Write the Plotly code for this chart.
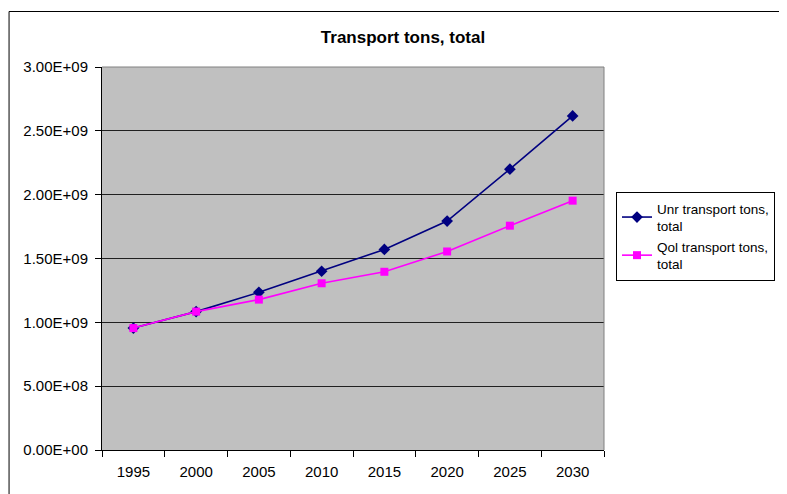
import plotly.graph_objects as go

years = ["1995", "2000", "2005", "2010", "2015", "2020", "2025", "2030"]
unr_values = [0.955e9, 1.084e9, 1.235e9, 1.400e9, 1.571e9, 1.793e9, 2.200e9, 2.617e9]
qol_values = [0.955e9, 1.084e9, 1.178e9, 1.306e9, 1.396e9, 1.555e9, 1.757e9, 1.953e9]
y_tickvals = [0, 0.5e9, 1.0e9, 1.5e9, 2.0e9, 2.5e9, 3.0e9]
y_ticktext = ["0.00E+00", "5.00E+08", "1.00E+09", "1.50E+09", "2.00E+09", "2.50E+09", "3.00E+09"]

FONT = "Liberation Sans, Arial, sans-serif"

fig = go.Figure()
fig.add_trace(go.Scatter(
    x=years, y=unr_values, mode="lines+markers",
    name="Unr transport tons,<br>total",
    line=dict(color="#000080", width=1.6),
    marker=dict(symbol="diamond", size=9, color="#000080"),
))
fig.add_trace(go.Scatter(
    x=years, y=qol_values, mode="lines+markers",
    name="Qol transport tons,<br>total",
    line=dict(color="#FF00FF", width=1.6),
    marker=dict(symbol="square", size=8, color="#FF00FF"),
))

# page body has an 8px default margin; work in page coordinates and shift
OFF = 8
W, H = 787 - OFF, 494 - OFF
L, T = 102 - OFF, 67 - OFF
pw, ph = 505, 383
R = W - L - pw
B = H - T - ph

def px(x):
    return (x - OFF - L) / pw

def py(y):
    return (T + ph - (y - OFF)) / ph

fig.update_layout(
    width=W, height=H,
    margin=dict(l=L, r=R, t=T, b=B, pad=0),
    paper_bgcolor="white",
    plot_bgcolor="#C0C0C0",
    font=dict(family=FONT, size=15, color="black"),
    title=dict(text="<b>Transport tons, total</b>", x=(403 - OFF) / W, xanchor="center",
               y=1 - (37 - OFF) / H, yanchor="middle", font=dict(size=17, family=FONT)),
    showlegend=True,
    legend=dict(xref="container", yref="container",
                x=(616 - OFF) / W, y=1 - (192 - OFF) / H, xanchor="left", yanchor="top",
                bgcolor="white", bordercolor="black", borderwidth=1,
                font=dict(size=13.5, family=FONT), tracegroupgap=12,
                itemwidth=30),
    xaxis=dict(type="category", tickson="boundaries", ticks="outside", ticklen=6,
               tickcolor="black", showline=True, linecolor="black", linewidth=1,
               showgrid=False, tickfont=dict(size=15), ticklabelstandoff=8,
               range=[-0.5, 7.5]),
    yaxis=dict(range=[0, 3.0e9], tickvals=y_tickvals, ticktext=y_ticktext,
               ticks="outside", ticklen=6, tickcolor="black",
               showline=True, linecolor="black", linewidth=1,
               showgrid=True, gridcolor="#202020", gridwidth=1,
               zeroline=False, tickfont=dict(size=15), ticklabelstandoff=4),
    shapes=[
        dict(type="line", xref="paper", yref="paper", x0=0, x1=1, y0=1, y1=1,
             line=dict(color="#808080", width=1)),
        dict(type="line", xref="paper", yref="paper", x0=1, x1=1, y0=0, y1=1,
             line=dict(color="#808080", width=1)),
        dict(type="rect", xref="paper", yref="paper", x0=px(8.5), x1=px(820),
             y0=py(530), y1=py(11.5), line=dict(color="black", width=1),
             fillcolor="rgba(0,0,0,0)", layer="below"),
    ],
)

fig.write_html("out.html")
